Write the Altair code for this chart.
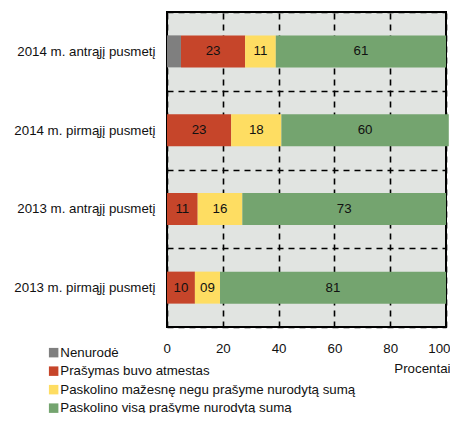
import altair as alt
import pandas as pd

categories = ["2014 m. antrąjį pusmetį", "2014 m. pirmąjį pusmetį",
              "2013 m. antrąjį pusmetį", "2013 m. pirmąjį pusmetį"]
series = ["Nenurodė", "Prašymas buvo atmestas",
          "Paskolino mažesnę negu prašyme nurodytą sumą",
          "Paskolino visą prašyme nurodytą sumą"]
colors = ["#7F7F7F", "#C6452A", "#FEDD62", "#74A46F"]

nenurode = [5, 0, 0, 0]
atmestas = [23, 23, 11, 10]
mazesne = [11, 18, 16, 9]
visa = [61, 60, 73, 81]
labels = [["", "23", "11", "61"],
          ["", "23", "18", "60"],
          ["", "11", "16", "73"],
          ["", "10", "09", "81"]]

rows = []
for i, c in enumerate(categories):
    for j, (s, v) in enumerate(zip(series, [nenurode[i], atmestas[i], mazesne[i], visa[i]])):
        rows.append({"cat": c, "series": s, "value": v, "order": j, "label": labels[i][j]})
df = pd.DataFrame(rows)

FONT = "Liberation Sans, Arial"
FS = 13.3

base = alt.Chart(df).transform_stack(
    stack="value", groupby=["cat"], as_=["x0", "x1"],
    sort=[alt.SortField("order", order="ascending")]
).transform_calculate(mid="(datum.x0 + datum.x1) / 2")

yenc = alt.Y("cat:N", sort=categories, title=None,
             scale=alt.Scale(paddingInner=0, paddingOuter=0),
             axis=alt.Axis(domain=False, ticks=False, labelFontSize=FS, labelFont=FONT,
                           labelColor="#111", labelPadding=12, grid=True, tickBand="extent",
                           gridColor="black", gridDash=[6, 5], gridWidth=1.6, labelLimit=300))

bars = base.mark_bar(size=32).encode(
    x=alt.X("x0:Q", scale=alt.Scale(domain=[0, 100], nice=False),
            axis=alt.Axis(values=[0, 20, 40, 60, 80, 100], domain=False, ticks=False,
                          labelFontSize=FS, labelFont=FONT, labelColor="#111",
                          labelFlush=True, labelFlushOffset=4,
                          labelPadding=14, grid=True, gridColor="black", gridDash=[6, 5],
                          gridWidth=1.6, title="Procentai", titleFontSize=FS,
                          titleFont=FONT, titleFontWeight="normal", titleColor="#111",
                          titleX=283, titleY=41, titleAlign="right",
                          titleBaseline="middle")),
    x2="x1:Q",
    y=yenc,
    color=alt.Color("series:N", scale=alt.Scale(domain=series, range=colors),
                    legend=alt.Legend(title=None, orient="none", legendX=-120, legendY=334,
                                      symbolType="square", symbolSize=90,
                                      symbolStrokeWidth=0, labelFontSize=FS,
                                      labelFont=FONT, labelColor="#111",
                                      rowPadding=4.5, labelOffset=0, padding=0,
                                      labelLimit=400)),
)

text = base.mark_text(fontSize=FS, font=FONT, color="#111").encode(
    x=alt.X("mid:Q"),
    y=alt.Y("cat:N", sort=categories),
    text="label:N",
)

chart = (bars + text).properties(
    width=279, height=315,
    autosize=alt.AutoSizeParams(type="none"),
    padding={"left": 159, "top": 4, "right": 4, "bottom": 86},
).configure_view(
    fill="#E1E4E1", stroke="black", strokeWidth=2
)

chart.save("out.html", embed_options={"renderer": "svg", "actions": False})
